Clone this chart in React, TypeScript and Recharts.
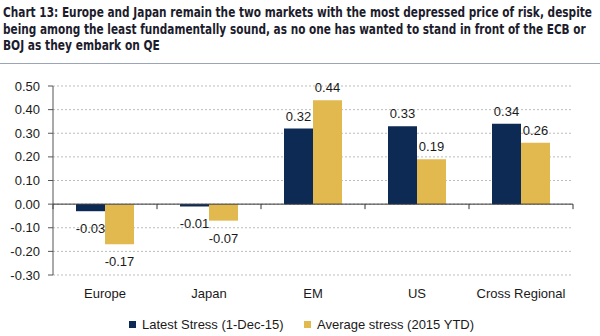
import React, { useLayoutEffect, useRef, useState } from 'react';
import { BarChart, Bar, XAxis, YAxis, CartesianGrid, ReferenceLine, LabelList } from 'recharts';

const categories = ['Europe', 'Japan', 'EM', 'US', 'Cross Regional'];
const latestStress = [-0.03, -0.01, 0.32, 0.33, 0.34];
const averageStress = [-0.17, -0.07, 0.44, 0.19, 0.26];
const seriesNames = ['Latest Stress (1-Dec-15)', 'Average stress (2015 YTD)'];
const yTicks = [-0.3, -0.2, -0.1, 0, 0.1, 0.2, 0.3, 0.4, 0.5];
const titleLines = [
  'Chart 13: Europe and Japan remain the two markets with the most depressed price of risk, despite',
  'being among the least fundamentally sound, as no one has wanted to stand in front of the ECB or',
  'BOJ as they embark on QE',
];

const NAVY = '#0C2A54';
const GOLD = '#E1B94E';
const FONT = '"Liberation Sans", Arial, sans-serif';
const TITLE_FONT = '"DejaVu Sans Condensed", "Liberation Sans Narrow", "Liberation Sans", sans-serif';

const data = categories.map((c, i) => ({ category: c, latest: latestStress[i], average: averageStress[i] }));

const renderLabel = (props: any) => {
  const x = Number(props.x);
  const y = Number(props.y);
  const width = Number(props.width);
  const height = Number(props.height);
  const value = Number(props.value);
  const top = Math.min(y, y + height);
  const bottom = Math.max(y, y + height);
  const cx = x + width / 2;
  const ty = value >= 0 ? top - 8 : bottom + 22;
  return (
    <text x={cx} y={ty} textAnchor="middle" fontSize={13} fill="#1a1a1a" fontFamily={FONT}>
      {value.toFixed(2)}
    </text>
  );
};

const ZeroAxis = (props: any) => {
  const x1 = Number(props.x1);
  const x2 = Number(props.x2);
  const y1 = Number(props.y1);
  const n = categories.length;
  const ticks = Array.from({ length: n + 1 }, (_, i) => x1 + ((x2 - x1) * i) / n);
  return (
    <g>
      <line x1={x1} x2={x2} y1={y1} y2={y1} stroke="#333" strokeWidth={1} />
      {ticks.map((tx, i) => (
        <line key={i} x1={tx} x2={tx} y1={y1} y2={y1 + 5} stroke="#333" strokeWidth={1} />
      ))}
    </g>
  );
};

const titleWidths = [589, 583, 157];
const titleBaselines = [17, 34, 50];
const seriesColors = [NAVY, GOLD];
const legendX = [129, 304];

const TitleLine = ({ text, width, y }: { text: string; width: number; y: number }) => {
  const ref = useRef<SVGTextElement>(null);
  const [scale, setScale] = useState(0.78);
  useLayoutEffect(() => {
    if (ref.current) {
      const w = ref.current.getComputedTextLength();
      if (w > 0) setScale(width / w);
    }
  }, [text, width]);
  return (
    <g transform={`translate(3, ${y}) scale(${scale}, 1)`}>
      <text ref={ref} x={0} y={0} fontSize={14.5} fontWeight="bold" fill="#1c1c2c" fontFamily={TITLE_FONT}>
        {text}
      </text>
    </g>
  );
};

export default function App() {
  return (
    <div style={{ position: 'absolute', left: 0, top: 0, width: 600, height: 336, background: '#fff', overflow: 'hidden' }}>
      <div style={{ position: 'absolute', left: 0, top: 0 }}>
        <BarChart
          width={600}
          height={336}
          data={data}
          margin={{ top: 86, right: 27, bottom: 41, left: 0 }}
          barGap={0}
          barSize={29}
        >
          <CartesianGrid vertical={false} stroke="#bdbdbd" strokeDasharray="2 2" />
          <XAxis
            dataKey="category"
            axisLine={false}
            tickLine={false}
            height={20}
            tickMargin={8}
            interval={0}
            tick={{ fontSize: 13, fill: '#1a1a1a', fontFamily: FONT }}
          />
          <YAxis
            width={53}
            domain={[-0.3, 0.5]}
            ticks={yTicks}
            allowDataOverflow
            tickFormatter={(v: number) => v.toFixed(2)}
            axisLine={{ stroke: '#555' }}
            tickLine={{ stroke: '#555' }}
            tickSize={5}
            tickMargin={8}
            tick={{ fontSize: 13, fill: '#1a1a1a', fontFamily: FONT }}
          />
          <Bar dataKey="latest" name={seriesNames[0]} fill={NAVY} isAnimationActive={false}>
            <LabelList dataKey="latest" content={renderLabel} />
          </Bar>
          <Bar dataKey="average" name={seriesNames[1]} fill={GOLD} isAnimationActive={false}>
            <LabelList dataKey="average" content={renderLabel} />
          </Bar>
          <ReferenceLine y={0} shape={ZeroAxis} />
        </BarChart>
      </div>
      <svg width={600} height={336} style={{ position: 'absolute', left: 0, top: 0, pointerEvents: 'none' }}>
        {titleLines.map((t, i) => (
          <TitleLine key={i} text={t} width={titleWidths[i]} y={titleBaselines[i]} />
        ))}
        <line x1={0} x2={600} y1={63.5} y2={63.5} stroke="#9aa6b8" strokeWidth={1} />
        {seriesNames.map((name, i) => (
          <g key={i}>
            <rect x={legendX[i]} y={321} width={7} height={7} fill={seriesColors[i]} />
            <text x={legendX[i] + 13} y={329} fontSize={13} fill="#1a1a1a" fontFamily={FONT}>
              {name}
            </text>
          </g>
        ))}
      </svg>
    </div>
  );
}
